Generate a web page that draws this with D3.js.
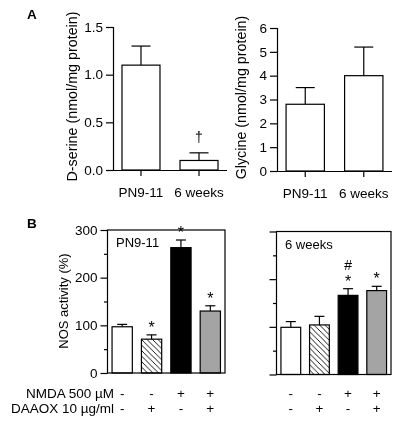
<!DOCTYPE html>
<html><head><meta charset="utf-8">
<script src="https://cdn.jsdelivr.net/npm/d3@7/dist/d3.min.js"></script>
<style>
html,body{margin:0;padding:0;background:#fff;}
svg{display:block;font-family:"Liberation Sans",Arial,Helvetica,sans-serif;will-change:transform;}
</style></head>
<body><svg id="c" width="400" height="425"></svg>
<script>
// ---- data ----
const ageGroups = ["PN9-11", "6 weeks"];
const dSerine = [1.1, 0.1];
const dSerineErr = [0.2, 0.08];
const glycine = [2.8, 4.0];
const glycineErr = [0.7, 1.2];
const dSerineTicks = [0, 0.5, 1.0, 1.5];
const glycineTicks = [0, 1, 2, 3, 4, 5, 6];

const treatments = ["ctrl", "daaox", "nmda", "nmda+daaox"];
const nmdaRow = ["-", "-", "+", "+"];
const daaoxRow = ["-", "+", "-", "+"];
const nosPN = [97, 71, 263, 130];
const nosPNErr = [5, 9, 16, 11];
const nosPNMarks = ["", "*", "*", "*"];
const nos6w = [99, 104, 166, 176];
const nos6wErr = [12, 18, 14, 9];
const nos6wMarks = ["", "", "*", "*"];
const nos6wMarks2 = ["", "", "#", ""];
const nosMajorTicks = [0, 100, 200, 300];
const nosMinorTicks = [50, 150, 250];

const svg = d3.select("#c");
const defs = svg.append("defs");
const pat = defs.append("pattern").attr("id", "hatch").attr("patternUnits", "userSpaceOnUse")
  .attr("width", 5.5).attr("height", 5.5);
pat.append("rect").attr("width", 5.5).attr("height", 5.5).attr("fill", "#fff");
pat.append("path").attr("d", "M0,0L5.5,5.5M-1,4.5L1,6.5M4.5,-1L6.5,1")
  .attr("stroke", "#000").attr("stroke-width", 0.9);

const fills = ["#fff", "url(#hatch)", "#000", "#a4a4a4"];
const LW = 1.2;

// ---------- Panel A ----------
function panelA(data, err, ticks, yDomain, x0, x1, yTop, yBot, label, labelX, fmt) {
  const y = d3.scaleLinear().domain(yDomain).range([yBot, yTop]);
  const x = d3.scaleBand().domain(ageGroups).range([x0, x1]).paddingInner(0.345).paddingOuter(0.155);
  const g = svg.append("g");
  const yAx = g.append("g").attr("transform", `translate(${x0},0)`)
    .call(d3.axisLeft(y).tickValues(ticks).tickFormat(fmt).tickSize(7).tickSizeOuter(0).tickPadding(3));
  const xAx = g.append("g").attr("transform", `translate(0,${yBot})`)
    .call(d3.axisBottom(x).tickSize(6).tickSizeOuter(0).tickPadding(11));
  [yAx, xAx].forEach(a => {
    a.selectAll("path,line").attr("stroke", "#000").attr("stroke-width", LW);
    a.selectAll("text").attr("font-size", 13.5).attr("fill", "#000");
    a.attr("font-family", null);
  });
  xAx.select(".domain").attr("d", `M${x0},0.5H${x1}`);
  yAx.select(".domain").attr("d", `M0.5,${yTop}V${yBot}`);
  g.selectAll(".bar").data(data).enter().append("rect")
    .attr("x", (d, i) => x(ageGroups[i])).attr("width", x.bandwidth())
    .attr("y", d => y(d)).attr("height", d => yBot - y(d))
    .attr("fill", "#fff").attr("stroke", "#000").attr("stroke-width", LW);
  data.forEach((d, i) => {
    const cx = x(ageGroups[i]) + x.bandwidth() / 2;
    g.append("line").attr("x1", cx).attr("x2", cx).attr("y1", y(d)).attr("y2", y(d + err[i]))
      .attr("stroke", "#000").attr("stroke-width", LW);
    g.append("line").attr("x1", cx - 9.5).attr("x2", cx + 9.5).attr("y1", y(d + err[i])).attr("y2", y(d + err[i]))
      .attr("stroke", "#000").attr("stroke-width", LW);
  });
  g.append("text").attr("transform", `translate(${labelX},${(yTop + yBot) / 2 - 2}) rotate(-90)`)
    .attr("text-anchor", "middle").attr("font-size", 14.3).text(label);
  return {x, y};
}

svg.append("text").attr("x", 27).attr("y", 18.5).attr("font-size", 13.5).attr("font-weight", "bold").text("A");
const aL = panelA(dSerine, dSerineErr, dSerineTicks, [0, 1.5], 113, 227, 27, 170,
  "D-serine (nmol/mg protein)", 77, d3.format(".1f"));
const aR = panelA(glycine, glycineErr, glycineTicks, [0, 6], 277, 392, 28, 171,
  "Glycine (nmol/mg protein)", 246, d3.format("d"));
// dagger
{
  const cx = aL.x(ageGroups[1]) + aL.x.bandwidth() / 2;
  svg.append("text").attr("x", cx).attr("y", aL.y(dSerine[1] + dSerineErr[1]) - 11)
    .attr("text-anchor", "middle").attr("font-size", 14).text("\u2020");
}

// ---------- Panel B ----------
svg.append("text").attr("x", 27).attr("y", 227.5).attr("font-size", 13.5).attr("font-weight", "bold").text("B");

function panelB(data, err, marks, marks2, bx0, bx1, yTop, yBot, title, showLabels) {
  const y = d3.scaleLinear().domain([0, 300]).range([yBot, yTop]);
  const x = d3.scaleBand().domain(treatments).range([bx0, bx1]).paddingInner(0.31).paddingOuter(0.155);
  const g = svg.append("g");
  const ax = g.append("g").attr("transform", `translate(${bx0},0)`)
    .call(d3.axisLeft(y).tickValues(nosMajorTicks).tickSize(7).tickSizeOuter(0).tickPadding(3)
      .tickFormat(showLabels ? d3.format("d") : () => ""));
  ax.attr("font-family", null);
  ax.select(".domain").remove();
  ax.selectAll("line").attr("stroke", "#000").attr("stroke-width", LW);
  ax.selectAll("text").attr("font-size", 13.5).attr("fill", "#000");
  const minor = g.append("g").attr("transform", `translate(${bx0},0)`)
    .call(d3.axisLeft(y).tickValues(nosMinorTicks).tickSize(3.5).tickFormat(() => ""));
  minor.select(".domain").remove();
  minor.selectAll("line").attr("stroke", "#000").attr("stroke-width", LW);

  g.selectAll(".bar").data(data).enter().append("rect")
    .attr("x", (d, i) => x(treatments[i])).attr("width", x.bandwidth())
    .attr("y", d => y(d)).attr("height", d => yBot - y(d))
    .attr("fill", (d, i) => fills[i]).attr("stroke", "#000").attr("stroke-width", LW);
  data.forEach((d, i) => {
    const cx = x(treatments[i]) + x.bandwidth() / 2;
    const top = y(d + err[i]);
    g.append("line").attr("x1", cx).attr("x2", cx).attr("y1", y(d)).attr("y2", top)
      .attr("stroke", "#000").attr("stroke-width", LW);
    g.append("line").attr("x1", cx - 5).attr("x2", cx + 5).attr("y1", top).attr("y2", top)
      .attr("stroke", "#000").attr("stroke-width", LW);
    if (marks[i]) {
      g.append("text").attr("x", cx).attr("y", top - 2).attr("text-anchor", "middle")
        .attr("font-size", 16).text(marks[i]);
    }
    if (marks2[i]) {
      g.append("text").attr("x", cx).attr("y", top - 19).attr("text-anchor", "middle")
        .attr("font-size", 14).text(marks2[i]);
    }
    g.append("text").attr("x", cx).attr("y", 398).attr("text-anchor", "middle")
      .attr("font-size", 13.5).text(nmdaRow[i]);
    g.append("text").attr("x", cx).attr("y", 413).attr("text-anchor", "middle")
      .attr("font-size", 13.5).text(daaoxRow[i]);
  });
  g.append("rect").attr("x", bx0).attr("y", yTop).attr("width", bx1 - bx0).attr("height", yBot - yTop)
    .attr("fill", "none").attr("stroke", "#000").attr("stroke-width", LW);
  g.append("text").attr("x", bx0 + 8.5).attr("y", yTop + 17).attr("font-size", 13).text(title);
}

panelB(nosPN, nosPNErr, nosPNMarks, ["", "", "", ""], 107.5, 225, 230, 373, "PN9-11", true);
panelB(nos6w, nos6wErr, nos6wMarks, nos6wMarks2, 276.5, 391, 231.5, 374.5, "6 weeks", false);

svg.append("text").attr("transform", "translate(68,301) rotate(-90)")
  .attr("text-anchor", "middle").attr("font-size", 13).text("NOS activity (%)");
svg.append("text").attr("x", 114).attr("y", 398).attr("text-anchor", "end").attr("font-size", 13.5)
  .text("NMDA 500 \u00b5M");
svg.append("text").attr("x", 114).attr("y", 413).attr("text-anchor", "end").attr("font-size", 13.5)
  .text("DAAOX 10 \u00b5g/ml");
</script></body></html>
